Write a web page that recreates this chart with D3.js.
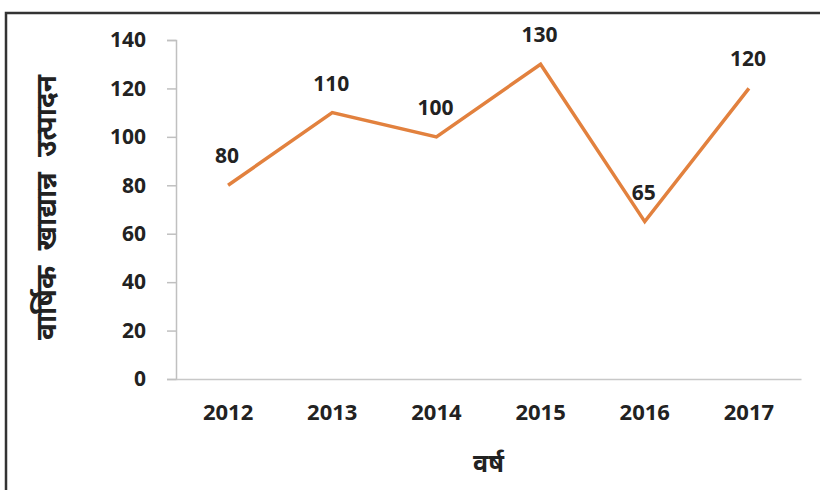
<!DOCTYPE html>
<html>
<head>
<meta charset="utf-8">
<script src="https://cdn.jsdelivr.net/npm/d3@7"></script>
<style>
  html, body { margin: 0; padding: 0; background: #fff; }
  svg { display: block; }
  text { font-family: "Open Sans", "Noto Sans", "Liberation Sans", sans-serif; }
</style>
</head>
<body>
<svg id="chart" width="820" height="490"></svg>
<script>
// Annual food grain production by year
const years = ["2012", "2013", "2014", "2015", "2016", "2017"];
const production = [80, 110, 100, 130, 65, 120];
const yTicks = [0, 20, 40, 60, 80, 100, 120, 140];
const xTitle = "वर्ष";
const yTitle = "वार्षिक खाद्यान्न उत्पादन";

const svg = d3.select("#chart");
const W = 820, H = 490;
const margin = { left: 176, right: 19, top: 40, bottom: 111 };

// outer frame
svg.append("rect")
  .attr("x", 6).attr("y", 13)
  .attr("width", W + 20).attr("height", H + 20)
  .attr("fill", "none")
  .attr("stroke", "#333")
  .attr("stroke-width", 2.5);

const x = d3.scaleBand()
  .domain(years)
  .range([margin.left, W - margin.right]);

const y = d3.scaleLinear()
  .domain([0, 140])
  .range([H - margin.bottom, margin.top]);

// y axis
const yAxis = svg.append("g")
  .attr("transform", `translate(${margin.left},0)`)
  .call(d3.axisLeft(y).tickValues(yTicks).tickSize(9).tickPadding(21));
yAxis.select(".domain").attr("stroke", "#c0c0c0").attr("stroke-width", 1.5);
yAxis.selectAll(".tick line").attr("stroke", "#c0c0c0").attr("stroke-width", 1.5);
yAxis.selectAll(".tick text")
  .attr("font-size", 21).attr("font-weight", "bold").attr("fill", "#222");

// x axis
const xAxis = svg.append("g")
  .attr("transform", `translate(0,${y(0)})`)
  .call(d3.axisBottom(x).tickSize(0).tickPadding(25));
xAxis.select(".domain").attr("stroke", "#c8c8c8").attr("stroke-width", 1.5);
xAxis.selectAll(".tick text")
  .attr("font-size", 22).attr("font-weight", "bold").attr("fill", "#222");

// line
const line = d3.line()
  .x((d, i) => x(years[i]) + x.bandwidth() / 2)
  .y(d => y(d));

svg.append("path")
  .datum(production)
  .attr("d", line)
  .attr("fill", "none")
  .attr("stroke", "#E2813E")
  .attr("stroke-width", 3.5)
  .attr("stroke-linejoin", "miter");

// data labels
svg.append("g").selectAll("text")
  .data(production)
  .join("text")
  .attr("x", (d, i) => x(years[i]) + x.bandwidth() / 2 - 1)
  .attr("y", d => y(d) - 22)
  .attr("text-anchor", "middle")
  .attr("font-size", 21).attr("font-weight", "bold").attr("fill", "#222")
  .text(d => d);

// axis titles
svg.append("text")
  .attr("x", (margin.left + W - margin.right) / 2)
  .attr("y", 472)
  .attr("text-anchor", "middle")
  .attr("font-size", 25).attr("font-weight", "bold").attr("fill", "#222")
  .text(xTitle);

svg.append("text")
  .attr("transform", `translate(56,${(y(0) + y(140)) / 2 - 2}) rotate(-90)`)
  .attr("text-anchor", "middle")
  .attr("font-size", 28).attr("font-weight", "bold").attr("fill", "#222")
  .attr("word-spacing", 8)
  .text(yTitle);
</script>
</body>
</html>
